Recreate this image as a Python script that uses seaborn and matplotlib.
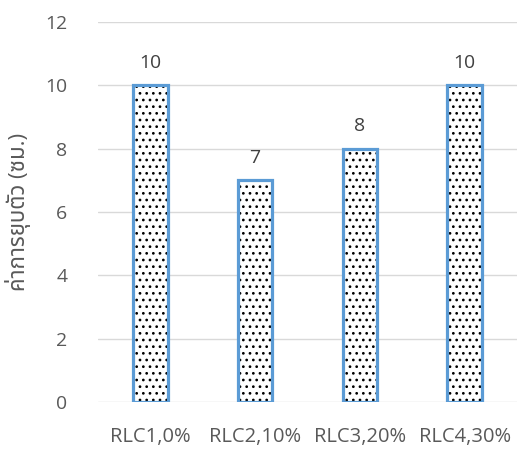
import matplotlib
matplotlib.use("Agg")
import matplotlib.pyplot as plt
import seaborn as sns
import pandas as pd
from matplotlib.patches import Rectangle

categories = ["RLC1,0%", "RLC2,10%", "RLC3,20%", "RLC4,30%"]
values = [10, 7, 8, 10]
y_ticks = [0, 2, 4, 6, 8, 10, 12]
y_label = "ค่าการยุบตัว (ซม.)"

DPI = 120
K = 100 / DPI  # sizes below are given as if at 100 dpi

sns.set_theme(style="white")
plt.rcParams["font.family"] = ["Open Sans", "Noto Sans Thai", "Sarabun",
                               "Athiti", "DejaVu Sans"]
plt.rcParams["hatch.linewidth"] = 1.0 * K

df = pd.DataFrame({"sample": categories, "value": values})

fig = plt.figure(figsize=(518 / DPI, 453 / DPI), dpi=DPI)
ax = fig.add_axes([0.189, 0.1126, 0.809, 0.8388])

# dotted fill first, outline drawn on top in blue
sns.barplot(data=df, x="sample", y="value", ax=ax, width=0.33,
            color="white", edgecolor="black", linewidth=0, hatch="...",
            zorder=2)
for p in list(ax.patches):
    ax.add_patch(Rectangle(p.get_xy(), p.get_width(), p.get_height(),
                           fill=False, edgecolor="#5B9BD5", linewidth=2.3 * K,
                           zorder=3))
    ax.text(p.get_x() + p.get_width() / 2, p.get_height() + 0.42,
            f"{p.get_height():g}", ha="center", va="bottom",
            fontsize=14 * K, color="#404040")

ax.set_ylim(0, 12)
ax.set_xlim(-0.5, 3.5)
ax.set_yticks(y_ticks)
ax.yaxis.grid(True, color="#D9D9D9", linewidth=1.0 * K, zorder=0)
ax.set_axisbelow(True)
for s in ax.spines.values():
    s.set_visible(False)
ax.tick_params(axis="y", length=0, pad=22 * K, labelsize=14 * K,
               labelcolor="#595959")
ax.tick_params(axis="x", length=0, pad=18 * K, labelsize=14.5 * K,
               labelcolor="#595959")
ax.set_xlabel("")
ax.set_ylabel(y_label, fontsize=16 * K, color="#595959")
ax.yaxis.set_label_coords(-0.16, 0.5)

fig.savefig("out.png", dpi=DPI)
